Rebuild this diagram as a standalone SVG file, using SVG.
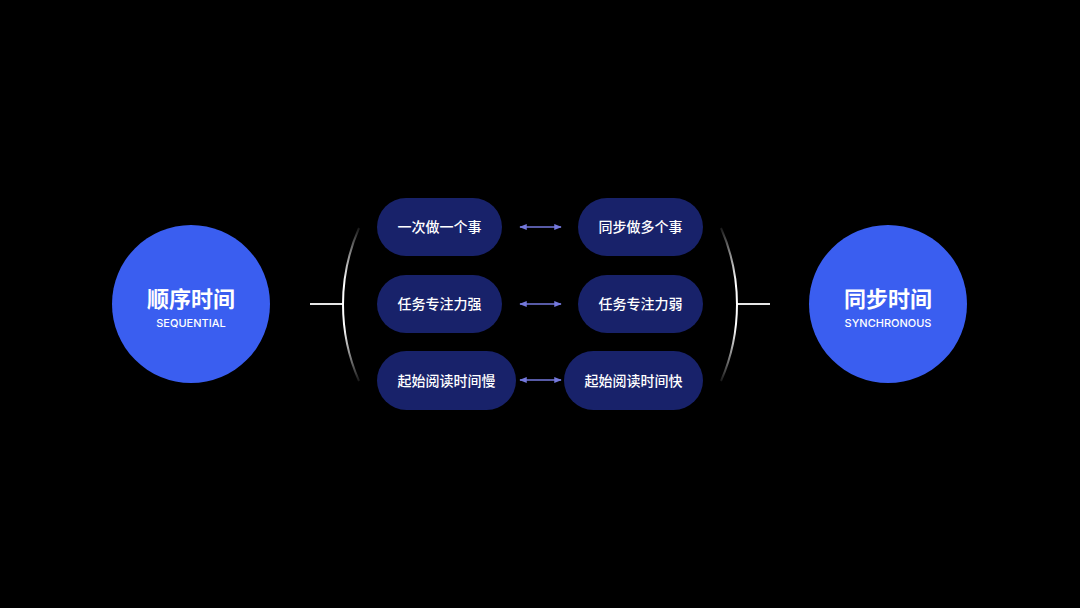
<svg xmlns="http://www.w3.org/2000/svg" width="1080" height="608" viewBox="0 0 1080 608">
  <defs>
    <linearGradient id="arcG" x1="0" y1="228" x2="0" y2="381" gradientUnits="userSpaceOnUse">
      <stop offset="0" stop-color="#ffffff" stop-opacity="0.1"/>
      <stop offset="0.35" stop-color="#ffffff" stop-opacity="1"/>
      <stop offset="0.65" stop-color="#ffffff" stop-opacity="1"/>
      <stop offset="1" stop-color="#ffffff" stop-opacity="0.1"/>
    </linearGradient>
    <marker id="ah" viewBox="0 0 10 10" refX="9" refY="5" markerWidth="5" markerHeight="5" orient="auto-start-reverse">
      <path d="M0,1 L10,5 L0,9 Z" fill="#7478dc"/>
    </marker>
    <style>
      .big{fill:#3a5ef0}
      .pill{fill:#18226a}
      .t{font-family:"Noto Sans CJK SC","Noto Sans",sans-serif;fill:#ffffff;text-anchor:middle}
      .pt{font-size:14px;font-weight:500}
      .ct{font-size:22px;font-weight:700}
      .st{font-family:Inter,"Noto Sans",sans-serif;font-size:11px;font-weight:500}
      .arc{fill:none;stroke:url(#arcG);stroke-width:2}
      .ln{stroke:#e6e6e6;stroke-width:2}
      .ar{stroke:#7478dc;stroke-width:1.5;marker-start:url(#ah);marker-end:url(#ah)}
    </style>
  </defs>
  <rect width="1080" height="608" fill="#000000"/>
  <g id="connectors">
    <line class="ln" x1="310" y1="304" x2="344" y2="304"/>
    <path class="arc" d="M359,228 A191,191 0 0 0 359,381"/>
    <line class="ln" x1="736" y1="304" x2="770" y2="304"/>
    <path class="arc" d="M721,228 A191,191 0 0 1 721,381"/>
    <line class="ar" x1="520" y1="227" x2="561" y2="227"/>
    <line class="ar" x1="520" y1="304" x2="561" y2="304"/>
    <line class="ar" x1="520" y1="380" x2="561" y2="380"/>
  </g>
  <g id="sequential">
    <circle class="big" cx="191" cy="304" r="79"/>
    <text class="t ct" x="191" y="307">顺序时间</text>
    <text class="t st" x="191" y="327">SEQUENTIAL</text>
  </g>
  <g id="synchronous">
    <circle class="big" cx="888" cy="304" r="79"/>
    <text class="t ct" x="888" y="307">同步时间</text>
    <text class="t st" x="888" y="327">SYNCHRONOUS</text>
  </g>
  <g id="l1"><rect class="pill" x="377" y="198" width="125" height="58" rx="29"/><text class="t pt" x="439.5" y="232">一次做一个事</text></g>
  <g id="r1"><rect class="pill" x="578" y="198" width="125" height="58" rx="29"/><text class="t pt" x="640.5" y="232">同步做多个事</text></g>
  <g id="l2"><rect class="pill" x="377" y="275" width="125" height="58" rx="29"/><text class="t pt" x="439.5" y="309">任务专注力强</text></g>
  <g id="r2"><rect class="pill" x="578" y="275" width="125" height="58" rx="29"/><text class="t pt" x="640.5" y="309">任务专注力弱</text></g>
  <g id="l3"><rect class="pill" x="377" y="351" width="139" height="59" rx="29.5"/><text class="t pt" x="446.5" y="385.5">起始阅读时间慢</text></g>
  <g id="r3"><rect class="pill" x="564" y="351" width="139" height="59" rx="29.5"/><text class="t pt" x="633.5" y="385.5">起始阅读时间快</text></g>
</svg>
